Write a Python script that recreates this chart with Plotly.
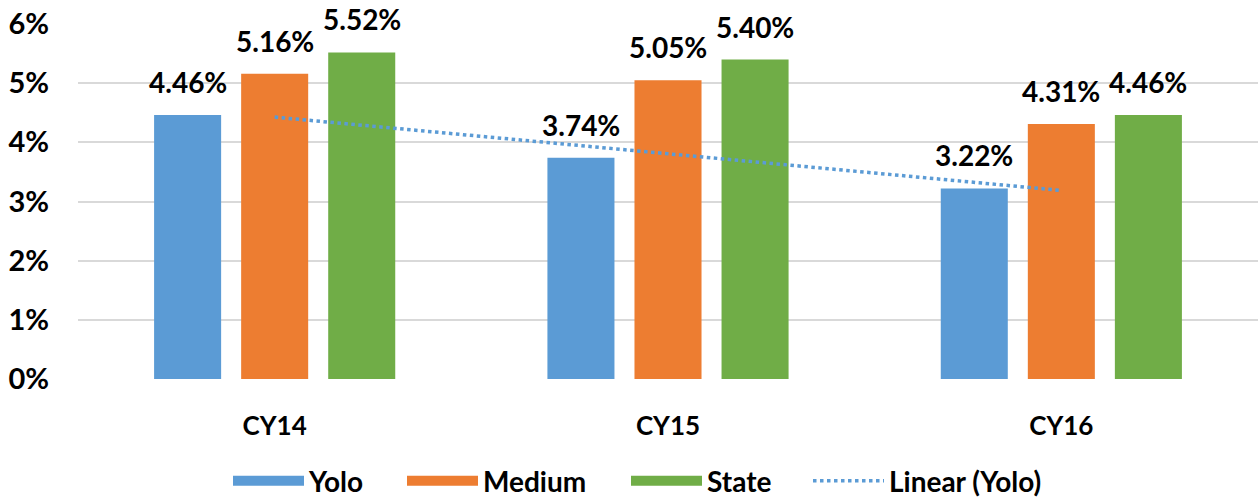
import numpy as np
import plotly.graph_objects as go

categories = ["CY14", "CY15", "CY16"]
yolo = [4.46, 3.74, 3.22]
medium = [5.16, 5.05, 4.31]
state = [5.52, 5.40, 4.46]
y_ticks = [0, 1, 2, 3, 4, 5, 6]
y_tick_labels = ["0%", "1%", "2%", "3%", "4%", "5%", "6%"]

FONT = "Lato, 'Open Sans', Arial, sans-serif"
BARGAP = 0.336
BARGROUPGAP = 0.23
W, H = 1260, 499

# linear trendline of Yolo (least squares)
xi = np.arange(len(yolo))
slope, intercept = np.polyfit(xi, yolo, 1)
trend = list(slope * xi + intercept)

series = [("Yolo", yolo, "#5B9BD5"), ("Medium", medium, "#ED7D31"), ("State", state, "#70AD47")]
legend_names = ["legend", "legend2", "legend3", "legend4"]
legend_left_px = [228, 402, 626, 808]

fig = go.Figure()
annotations = []
slot = (1 - BARGAP) / len(series)
for k, (name, vals, color) in enumerate(series):
    fig.add_trace(go.Bar(
        x=categories, y=vals, name=name, marker_color=color, marker_line_width=0,
        showlegend=False,
    ))
    for i, v in enumerate(vals):
        annotations.append(dict(
            x=i + (k - 1) * slot, y=v, xref="x", yref="y",
            text=f"<b>{v:.2f}%</b>", showarrow=False,
            yanchor="bottom", yshift=14,
            font=dict(size=28, color="black", family=FONT),
        ))
    # legend entry drawn as wide block
    fig.add_trace(go.Scatter(
        x=[None], y=[None], name=name, mode="lines",
        line=dict(color=color, width=18), legend=legend_names[k],
    ))

fig.add_trace(go.Scatter(
    x=categories, y=trend, name="Linear (Yolo)", mode="lines",
    line=dict(color="#5B9BD5", width=3.5, dash="dot"), legend=legend_names[3],
))

legend_common = dict(orientation="h", xref="container", yref="container",
                     xanchor="left", y=(H - 481) / H, yanchor="middle",
                     font=dict(size=28, family=FONT, weight="bold"),
                     itemwidth=71, bgcolor="rgba(0,0,0,0)")
legends = {}
for name, px in zip(legend_names, legend_left_px):
    legends[name] = dict(legend_common, x=px / W)

fig.update_layout(
    width=W, height=H,
    margin=dict(l=78, r=2, t=24, b=120),
    paper_bgcolor="white", plot_bgcolor="white",
    barmode="group", bargap=BARGAP, bargroupgap=BARGROUPGAP,
    font=dict(family=FONT, color="black", size=24, weight="bold"),
    showlegend=True,
    annotations=annotations,
    xaxis=dict(showgrid=False, showline=False, ticks="", ticklabelstandoff=29,
               automargin=False,
               tickfont=dict(size=26, family=FONT, weight="bold")),
    yaxis=dict(range=[0, 6], tickvals=y_ticks, ticktext=y_tick_labels,
               showgrid=True, gridcolor="#d9d9d9", gridwidth=2, zeroline=False,
               showline=False, ticks="", ticklabelstandoff=28, automargin=False,
               tickfont=dict(size=29, family=FONT, weight="bold")),
    **legends,
)

fig.write_html("out.html", config={"displayModeBar": False},
               post_script="document.body.style.margin='0px';")
